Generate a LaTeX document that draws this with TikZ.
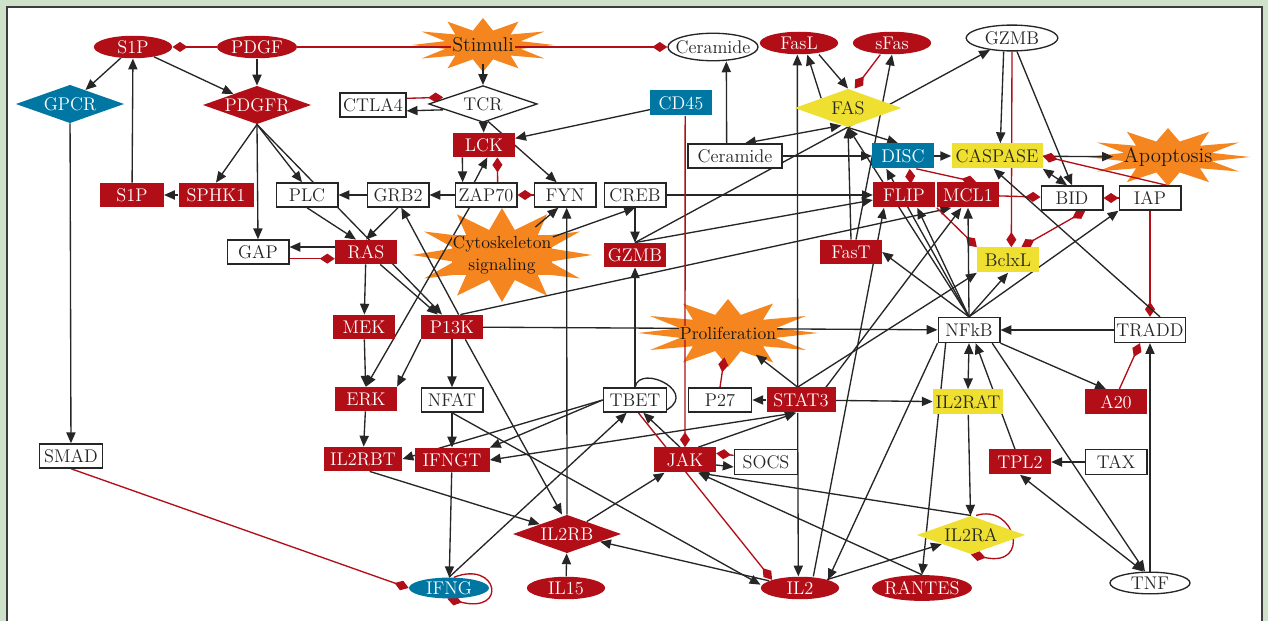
\documentclass[tikz,border=0pt]{standalone}
\usepackage{tikz}
\usetikzlibrary{arrows.meta,shapes.geometric,backgrounds}

\definecolor{nodered}{RGB}{178,14,23}
\definecolor{nodeblue}{RGB}{0,119,163}
\definecolor{nodeyellow}{RGB}{238,223,48}
\definecolor{starorange}{RGB}{245,134,31}
\definecolor{framegreen}{RGB}{206,225,201}
\definecolor{framegray}{RGB}{60,60,60}

\pgfdeclarelayer{frame}
\pgfdeclarelayer{stars}
\pgfdeclarelayer{edges}
\pgfsetlayers{frame,stars,edges,main}

% starburst: name, x, y, x radius, y radius, text
\newcommand{\burst}[6]{%
\begin{pgfonlayer}{stars}
\fill[starorange] ({#2+#4},#3) \foreach \k in {1,...,23}
  {-- ({#2+(1-0.45*mod(\k,2))*#4*cos(15*\k)},{#3+(1-0.45*mod(\k,2))*#5*sin(15*\k)})} -- cycle;
\end{pgfonlayer}
\node[burstcore, minimum width={0.8*#4*1pt}, minimum height={0.85*#5*1pt}] (#1) at (#2,#3) {};
\node[bursttext] (#1t) at (#1) {#6};
}

\begin{document}
\begin{tikzpicture}[x=0.6pt,y=-0.6pt]
\tikzstyle{every node} = [font=\fontsize{11}{13}\selectfont]
\tikzstyle{redbox} = [rectangle, fill=nodered, text=white, minimum width=37pt, minimum height=14.5pt, inner sep=1pt]
\tikzstyle{bluebox} = [rectangle, fill=nodeblue, text=white, minimum width=37pt, minimum height=15pt, inner sep=1pt]
\tikzstyle{yellowbox} = [rectangle, fill=nodeyellow, text=black!85, minimum width=37pt, minimum height=15pt, inner sep=1pt]
\tikzstyle{whitebox} = [rectangle, draw=black!85, line width=0.8pt, fill=white, text=black!85,
minimum width=37pt, minimum height=14.5pt, inner sep=1pt]
\tikzstyle{redoval} = [ellipse, fill=nodered, text=white, minimum width=47pt, minimum height=13.5pt, inner sep=0pt]
\tikzstyle{blueoval} = [ellipse, fill=nodeblue, text=white, minimum width=48pt, minimum height=12.5pt, inner sep=0pt]
\tikzstyle{whiteoval} = [ellipse, draw=black!85, line width=0.8pt, fill=white, text=black!85,
minimum width=48pt, minimum height=13.5pt, inner sep=0pt]
\tikzstyle{reddiamond} = [diamond, aspect=2.8, fill=nodered, text=white, minimum width=65pt, minimum height=23pt, inner sep=0pt]
\tikzstyle{bluediamond} = [diamond, aspect=2.8, fill=nodeblue, text=white, minimum width=65pt, minimum height=23pt, inner sep=0pt]
\tikzstyle{yellowdiamond} = [diamond, aspect=2.8, fill=nodeyellow, text=black!85, minimum width=65pt, minimum height=23pt, inner sep=0pt]
\tikzstyle{whitediamond} = [diamond, aspect=2.8, draw=black!85, line width=0.8pt, fill=white, text=black!85,
minimum width=65pt, minimum height=22pt, inner sep=0pt]
\tikzstyle{burstcore} = [ellipse, inner sep=0pt]
\tikzstyle{bursttext} = [fill=starorange, inner sep=0.5pt, text=black!90, align=center]
\tikzstyle{act} = [draw=black!85, line width=0.8pt, -{Triangle[length=6.5pt,width=5.5pt]}]
\tikzstyle{actboth} = [draw=black!85, line width=0.8pt, {Triangle[length=6.5pt,width=5.5pt]}-{Triangle[length=6.5pt,width=5.5pt]}]
\tikzstyle{inh} = [draw=nodered, line width=0.8pt, -{Diamond[length=9pt,width=6pt]}]
\tikzstyle{inhboth} = [draw=nodered, line width=0.8pt, {Diamond[length=9pt,width=6pt]}-{Diamond[length=9pt,width=6pt]}]

\useasboundingbox (0,0) rectangle (1268,621);
\begin{pgfonlayer}{frame}
\fill[framegreen] (0,0) rectangle (1268,621);
\fill[white] (7,7) rectangle (1262,621);
\draw[framegray, line width=1.2pt] (7,621) -- (7,7) -- (1262,7) -- (1262,621);
\end{pgfonlayer}

% top row
\node[redoval] (S1Pe) at (133,47) {S1P};
\node[redoval, minimum width=48pt] (PDGF) at (257,47) {PDGF};
\burst{Stimuli}{483}{45}{71}{27}{\fontsize{12}{14}\selectfont Stimuli}
\node[whiteoval, minimum width=54pt, minimum height=16.5pt, inner xsep=-3.8pt] (Cere) at (713,47) {Ceramide};
\node[redoval] (FasL) at (799,43) {FasL};
\node[redoval] (sFas) at (892,43) {sFas};
\node[whiteoval, minimum width=55pt, minimum height=15.5pt] (GZMBe) at (1012,38) {GZMB};

% receptors
\node[bluediamond] (GPCR) at (70,104) {GPCR};
\node[reddiamond] (PDGFR) at (257,105) {PDGFR};
\node[whitebox, minimum width=39.6pt] (CTLA4) at (373,105) {CTLA4};
\node[whitediamond] (TCR) at (483,104) {TCR};
\node[bluebox] (CD45) at (681,103) {CD45};
\node[yellowdiamond, minimum width=64pt] (FAS) at (848,108) {FAS};

\node[redbox] (LCK) at (484,145) {LCK};
\node[whitebox, minimum width=56.4pt] (Cerb) at (735,156) {Ceramide};
\node[bluebox] (DISC) at (903,156) {DISC};
\node[yellowbox, minimum width=54.6pt] (CASPASE) at (997,156) {CASPASE};
\burst{Apopt}{1168}{157}{82}{29}{\fontsize{12.5}{14}\selectfont Apoptosis}

\node[redbox, minimum width=38pt] (S1Pr) at (132,195) {S1P};
\node[redbox, minimum width=45pt] (SPHK1) at (216,195) {SPHK1};
\node[whitebox] (PLC) at (307,195) {PLC};
\node[whitebox] (GRB2) at (398,195) {GRB2};
\node[whitebox] (ZAP70) at (486,195) {ZAP70};
\node[whitebox] (FYN) at (565,195) {FYN};
\node[whitebox] (CREB) at (635,195) {CREB};
\node[redbox, minimum height=15pt] (FLIP) at (904,195) {FLIP};
\node[redbox, minimum height=15pt] (MCL1) at (968,195) {MCL1};
\node[whitebox] (BID) at (1072,198) {BID};
\node[whitebox] (IAP) at (1150,198) {IAP};

\node[whitebox] (GAP) at (258,252) {GAP};
\node[redbox] (RAS) at (366,252) {RAS};
\burst{Cyto}{502}{255}{90}{47}{\fontsize{10.5}{12}\selectfont Cytoskeleton\\\fontsize{10.5}{12}\selectfont signaling}
\node[redbox] (GZMB) at (635,255) {GZMB};
\node[redbox] (FasT) at (851,252) {FasT};
\node[yellowbox] (BclxL) at (1008,260) {BclxL};

\node[redbox] (MEK) at (364,327) {MEK};
\node[redbox] (P13K) at (452,327) {P13K};
\burst{Prolif}{728}{333}{90}{34}{\fontsize{10.5}{12}\selectfont Proliferation}
\node[whitebox, minimum height=15pt] (NFkB) at (969,330) {NFkB};
\node[whitebox, minimum width=42pt, minimum height=15pt] (TRADD) at (1150,330) {TRADD};

\node[redbox] (ERK) at (366,399) {ERK};
\node[whitebox] (NFAT) at (452,400) {NFAT};
\node[whitebox, minimum width=38pt] (TBET) at (635,400) {TBET};
\node[whitebox, minimum width=38pt] (P27) at (720,400) {P27};
\node[redbox, minimum width=41.4pt, minimum height=15pt] (STAT3) at (801,400) {STAT3};
\node[yellowbox, minimum width=42pt] (IL2RAT) at (968,402) {IL2RAT};
\node[redbox, minimum height=15pt] (A20) at (1116,402) {A20};

\node[whitebox, minimum width=38pt] (SMAD) at (71,456) {SMAD};
\node[redbox, minimum width=47pt] (IL2RBT) at (363,459) {IL2RBT};
\node[redbox, minimum width=45pt] (IFNGT) at (452,460) {IFNGT};
\node[redbox, minimum height=15pt] (JAK) at (685,460) {JAK};
\node[whitebox, minimum width=38pt, minimum height=15pt] (SOCS) at (766,462) {SOCS};
\node[redbox, minimum height=15pt] (TPL2) at (1020,462) {TPL2};
\node[whitebox, minimum height=15pt] (TAX) at (1116,462) {TAX};

\node[reddiamond] (IL2RB) at (567,534) {IL2RB};
\node[yellowdiamond] (IL2RA) at (971,535) {IL2RA};

\node[blueoval, minimum width=48pt] (IFNG) at (449,588) {IFNG};
\node[redoval] (IL15) at (566,588) {IL15};
\node[redoval] (IL2) at (800,588) {IL2};
\node[redoval, minimum width=60pt, minimum height=15.5pt, inner xsep=-1.9pt] (RANTES) at (922,588) {RANTES};
\node[whiteoval, minimum height=13pt] (TNF) at (1150,583) {TNF};

\begin{pgfonlayer}{edges}
% left part
\path[inh] (PDGF) -- (S1Pe);
\path[inh] (PDGF) -- (Cere);
\path[act] (S1Pe) -- (GPCR);
\path[act] (S1Pe) -- (PDGFR);
\path[act] (PDGF) -- (PDGFR);
\path[act] (S1Pr) -- (S1Pe);
\path[act] (SPHK1) -- (S1Pr);
\path[act] (PDGFR.south) -- (SPHK1.north);
\path[act] (PDGFR.south) -- (GAP.north);
\path[act] (PDGFR.south) -- ([xshift=-3pt]PLC.north);
\path[act] (PDGFR.south) -- ([xshift=-6pt]P13K.north);
\path[act] (GPCR) -- (SMAD);
\path[inh] (SMAD.south) -- (IFNG.west);
\path[act] (GRB2) -- (PLC);
\path[act] (ZAP70) -- (GRB2);
\path[act] (PLC.south) -- ([xshift=-6pt]RAS.north);
\path[act] (GRB2.south) -- (RAS.north);
\path[act] ([yshift=3pt]RAS.west) -- ([yshift=3pt]GAP.east);
\path[inh] ([yshift=-4pt]GAP.east) -- ([yshift=-4pt]RAS.west);
\path[act] (RAS) -- (MEK);
\path[act] (MEK) -- (ERK);
\path[act] (RAS) -- (P13K);
\path[act] ([xshift=4pt]P13K.north) -- ([xshift=2pt]GRB2.south);
\path[act] ([xshift=-10pt]ZAP70.south) -- (ERK.north);
\path[act] (P13K.south west) -- (ERK.north east);
\path[act] (ERK) -- (IL2RBT);
\path[act] (P13K) -- (NFAT);
\path[act] (NFAT) -- (IFNGT);
\path[act] (IFNGT) -- (IFNG);
% TCR part
\path[act] (Stimuli) -- (TCR);
\path[act] ([xshift=9pt,yshift=-3.5pt]TCR.west) -- ([yshift=-3.5pt]CTLA4.east);
\path[inh] ([yshift=4pt]CTLA4.east) -- ([xshift=9pt,yshift=4pt]TCR.west);
\path[act] (TCR) -- (LCK);
\path[act] ([xshift=3pt,yshift=1pt]TCR.south) -- ([xshift=-5pt]FYN.north);
\path[act] (CD45) -- (LCK);
\path[act] ([xshift=-13pt]LCK.south) -- ([xshift=-14pt]ZAP70.north);
\path[act] ([xshift=-7pt]ZAP70.north) -- ([xshift=2pt]LCK.south);
\path[inh] ([xshift=7pt]ZAP70.north) -- ([xshift=8pt]LCK.south);
\path[inh] (FYN) -- (ZAP70);
\path[act] (Cyto) -- ([xshift=-4pt]FYN.south);
\path[act] (Cyto) -- (CREB.south);
\path[act] (CREB) -- (GZMB);
\path[act] (CREB) -- (FLIP);
\path[act] (TBET) -- (GZMB);
\path[act] (GZMB.north) -- (GZMBe);
\path[act] (GZMB.north) -- ([yshift=-3pt]FLIP.west);
\path[act] ([xshift=5pt]P13K.north) -- ([xshift=-10pt]MCL1.south);
\path[act] (P13K) -- (NFkB);
\path[act] ([xshift=8pt]P13K.south) -- ([xshift=-3pt]IL2RB.north);
% FAS part
\path[act] ([xshift=-5pt]Cerb.north) -- ([xshift=8pt]Cere.south);
\path[actboth] ([xshift=6pt]Cerb.north) -- ([xshift=-4pt,yshift=1.2pt]FAS.south);
\path[act] (Cerb) -- (DISC);
\path[act] (FAS.north west) -- ([xshift=5pt]FasL.south);
\path[act] ([xshift=12pt]FasL.south) -- (FAS.north);
\path[inh] ([xshift=-7pt]sFas.south) -- ([xshift=4pt]FAS.north);
\path[act] (FasT.north) -- (FAS.south);
\path[act] ([xshift=3pt]FasT.north) -- (sFas.south);
\path[act] (FAS.south) -- ([xshift=-3pt]DISC.north);
\path[act] (DISC) -- (CASPASE);
\path[act] (CASPASE) -- (Apopt);
\path[act] ([xshift=-5pt]GZMBe.south) -- ([xshift=2pt]CASPASE.north);
\path[act] ([xshift=3pt]GZMBe.south) -- (BID.north);
\path[inh] (GZMBe.south) -- ([xshift=2pt]BclxL.north);
\path[actboth] (CASPASE.south east) -- ([xshift=-3pt]BID.north);
\path[inh] ([xshift=4pt]FLIP.north) -- ([xshift=4pt]DISC.south);
\path[inh] ([xshift=8pt]DISC.south) -- ([xshift=5pt]MCL1.north);
\path[inh] (MCL1.south west) -- (BclxL.north west);
\path[inh] (MCL1) -- (BID);
\path[inh] (IAP) -- (BID);
\path[inh] ([xshift=10pt]IAP.north) -- (CASPASE.east);
\path[inhboth] ([xshift=8pt]BID.south) -- ([xshift=8pt]BclxL.north);
\path[inh] (IAP) -- (TRADD);
\path[act] ([xshift=6pt]TRADD.north) -- ([xshift=-2pt]CASPASE.south);
% NFkB part
\path[act] (NFkB.north) -- (FasT.east);
\path[act] (NFkB.north) -- ([xshift=8pt]FLIP.south);
\path[act] (NFkB.north) -- ([xshift=-10pt]DISC.south);
\path[act] (NFkB.north) -- (FAS.south);
\path[act] (NFkB.north) -- (MCL1.south);
\path[act] (NFkB.north) -- (BclxL.south);
\path[act] (NFkB.north) -- (IAP.south west);
\path[act] (TRADD) -- (NFkB);
\path[act] (TNF) -- (TRADD);
\path[act] (NFkB.south east) -- ([xshift=-6pt]A20.north);
\path[inh] ([xshift=2pt]A20.north) -- ([xshift=-6pt]TRADD.south);
\path[act] ([xshift=-5pt]NFkB.south east) -- ([xshift=-3pt]TNF.north);
\path[actboth] ([xshift=-4pt]TNF.north) -- (TPL2.south);
\path[act] (TAX) -- (TPL2);
\path[act] ([xshift=-3pt]TPL2.north) -- ([xshift=4pt]NFkB.south);
\path[actboth] (NFkB.south) -- (IL2RAT.north);
\path[act] (IL2RAT) -- (IL2RA);
\path[act] (NFkB.south west) -- (IL2.north east);
\path[act] ([xshift=-14pt]NFkB.south) -- (RANTES.north);
% STAT3 part
\path[act] ([xshift=-2pt]STAT3.north) -- ([xshift=-1pt]FasL.south);
\path[act] ([xshift=-2pt]STAT3.south) -- ([xshift=-1pt]IL2.north);
\path[act] ([xshift=-2pt]STAT3.north) -- (Prolif);
\path[act] ([xshift=15pt]STAT3.north) -- ([xshift=-4pt]MCL1.south);
\path[act] ([xshift=-2pt]STAT3.north) -- (BclxL.south west);
\path[act] (STAT3) -- (P27);
\path[inh] (P27.north) -- (Prolif);
\path[act] (STAT3) -- (IL2RAT);
\path[actboth] (IFNGT.east) -- ([xshift=-3pt]STAT3.south);
% JAK part
\path[inh] ([xshift=2.5pt]CD45.south) -- (JAK.north);
\path[act] ([yshift=-3pt]JAK.east) -- ([yshift=-3pt]SOCS.west);
\path[inh] ([yshift=4pt]SOCS.west) -- ([yshift=4pt]JAK.east);
\path[act] ([xshift=8pt]JAK.north) -- ([xshift=-3pt]STAT3.south);
\path[act] ([xshift=-3pt]JAK.north) -- ([xshift=5pt]TBET.south);
\path[inh] ([xshift=2pt]TBET.south) -- (IL2.north west);
\path[act] (IL2RA.north) -- ([xshift=8pt]JAK.south);
\path[act] (RANTES.north) -- ([xshift=8pt]JAK.south);
\path[act] (IL2RB) -- (JAK);
\path[act] (IL15) -- (IL2RB);
\path[act] (IL2RB.north) -- ([xshift=1pt]FYN.south);
\path[act] ([xshift=4pt]IL2RBT.south) -- (IL2RB.north west);
\path[act] (IL2) -- (IL2RB);
\path[act] (IL2) -- (IL2RA);
\path[act] ([xshift=8pt]IL2.north) -- ([xshift=-12pt]FLIP.south);
\path[act] (NFAT.south) -- ([yshift=2pt]IL2.west);
\path[act] (IFNG.north) -- ([xshift=-5pt]TBET.south);
\path[act] (TBET.west) -- (IFNGT.north east);
\path[act] (TBET.west) -- (IL2RBT.east);
% self loops
\path[draw=black!85, line width=0.8pt] (TBET.north) .. controls (640,362) and (705,395) .. ([xshift=-4pt]TBET.south east);
\path[inh] ([xshift=3pt]IFNG.north) .. controls (498,560) and (508,614) .. ([xshift=-1pt]IFNG.south);
\path[inh] ([xshift=3pt]IL2RA.north) .. controls (1015,503) and (1032,568) .. (IL2RA.south);
\end{pgfonlayer}
\end{tikzpicture}
\end{document}
